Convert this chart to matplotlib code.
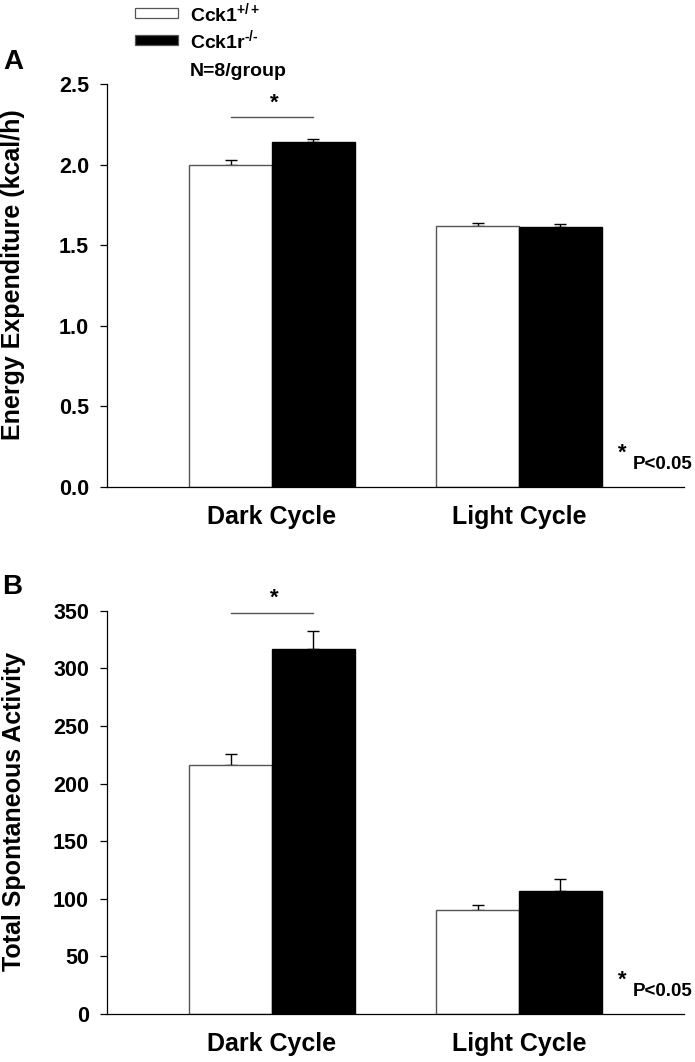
import matplotlib
matplotlib.use("Agg")
import matplotlib.pyplot as plt
from matplotlib.patches import Rectangle
import numpy as np

# -- Data -------------------------------------------------------------------
CYCLES = ["Dark Cycle", "Light Cycle"]
GROUPS = ["Cck1$^{+/+}$", "Cck1r$^{\u2010/\u2010}$"]
GROUP_COLORS = ["white", "black"]
N_TEXT = "N=8/group"

# Panel A: energy expenditure (kcal/h)
EE_WT = [2.00, 1.62]
EE_WT_SE = [0.03, 0.02]
EE_KO = [2.14, 1.61]
EE_KO_SE = [0.02, 0.02]

# Panel B: total spontaneous activity
SA_WT = [216, 90]
SA_WT_SE = [10, 5]
SA_KO = [317, 107]
SA_KO_SE = [15, 10]

plt.rcParams["font.family"] = "Liberation Sans"
plt.rcParams["font.weight"] = "bold"
plt.rcParams["mathtext.fontset"] = "custom"
plt.rcParams["mathtext.rm"] = "Liberation Sans:bold"
plt.rcParams["mathtext.bf"] = "Liberation Sans:bold"
plt.rcParams["mathtext.it"] = "Liberation Sans:bold"

W, H = 695, 1062
fig = plt.figure(figsize=(W / 100, H / 100), dpi=100)


def fx(px):
    return px / W


def fy(py):
    return 1 - py / H


BAR_W = 0.336
x = np.arange(1, len(CYCLES) + 1)


def panel(rect, wt, wt_se, ko, ko_se, ylim, yticks, fmt, sig_y, star_y):
    ax = fig.add_axes(rect)
    ax.bar(x - BAR_W / 2, wt, BAR_W, color=GROUP_COLORS[0], edgecolor="#555555",
           linewidth=1.0, zorder=2)
    ax.bar(x + BAR_W / 2, ko, BAR_W, color=GROUP_COLORS[1], edgecolor="black",
           linewidth=1.0, zorder=2)
    ax.errorbar(x - BAR_W / 2, wt, yerr=[np.zeros(len(wt)), wt_se], fmt="none",
                ecolor="black", elinewidth=1.0, capsize=4.3, capthick=1.0, zorder=1)
    ax.errorbar(x + BAR_W / 2, ko, yerr=[np.zeros(len(ko)), ko_se], fmt="none",
                ecolor="black", elinewidth=1.0, capsize=4.3, capthick=1.0, zorder=1)

    ax.set_xlim(1 - 0.668, 2 + 0.668)
    ax.set_ylim(*ylim)
    ax.set_yticks(yticks)
    ax.set_yticklabels([fmt.format(v) for v in yticks], fontsize=15.5,
                       fontweight="bold")
    ax.set_xticks(x)
    ax.set_xticklabels(CYCLES, fontsize=18, fontweight="bold")
    ax.tick_params(axis="x", length=0, pad=13)
    ax.tick_params(axis="y", length=5, width=0.9, pad=8, direction="out")
    for s in ("top", "right"):
        ax.spines[s].set_visible(False)
    for s in ("left", "bottom"):
        ax.spines[s].set_linewidth(0.9)

    # significance bracket over dark cycle
    ax.plot([1 - BAR_W / 2, 1 + BAR_W / 2], [sig_y, sig_y], color="#555555",
            linewidth=1.0)
    ax.text(1.01, star_y, "*", ha="center", va="center", fontsize=16,
            fontweight="bold")

    # p-value note
    ax.text(0.893, 0.085, "*", transform=ax.transAxes, ha="center",
            va="center", fontsize=16, fontweight="bold")
    ax.text(0.912, 0.057, "P<0.05", transform=ax.transAxes, ha="left",
            va="center", fontsize=13.5, fontweight="bold")
    return ax


# Panel A
axA = panel([fx(107), fy(487), fx(684 - 107), (487 - 84) / H],
            EE_WT, EE_WT_SE, EE_KO, EE_KO_SE, (0, 2.5),
            [0.0, 0.5, 1.0, 1.5, 2.0, 2.5], "{:.1f}", 2.295, 2.38)
# Panel B
axB = panel([fx(107), fy(1014), fx(684 - 107), (1014 - 610.7) / H],
            SA_WT, SA_WT_SE, SA_KO, SA_KO_SE, (0, 350),
            [0, 50, 100, 150, 200, 250, 300, 350], "{:d}", 348, 361)

fig.text(fx(13), fy(275), "Energy Expenditure (kcal/h)", rotation=90,
         ha="center", va="center", fontsize=18, fontweight="bold")
fig.text(fx(14), fy(811), "Total Spontaneous Activity", rotation=90,
         ha="center", va="center", fontsize=18, fontweight="bold")

fig.text(fx(13), fy(62), "A", ha="center", va="center", fontsize=20,
         fontweight="bold")
fig.text(fx(12.5), fy(587), "B", ha="center", va="center", fontsize=20,
         fontweight="bold")

# -- Legend (drawn by hand, figure coords) -----------------------------------
legend_rows = [13, 40]
for label, color, yc in zip(GROUPS, GROUP_COLORS, legend_rows):
    fig.add_artist(Rectangle((fx(135), fy(yc + 5)), fx(43), 10 / H,
                             facecolor=color, edgecolor="#555555",
                             linewidth=0.9, transform=fig.transFigure))
    fig.text(fx(190), fy(yc), label, ha="left", va="center", fontsize=14,
             fontweight="bold")
fig.text(fx(190), fy(72), N_TEXT, ha="left", va="center", fontsize=14,
         fontweight="bold")

fig.savefig("out.png", dpi=100, facecolor="white")
